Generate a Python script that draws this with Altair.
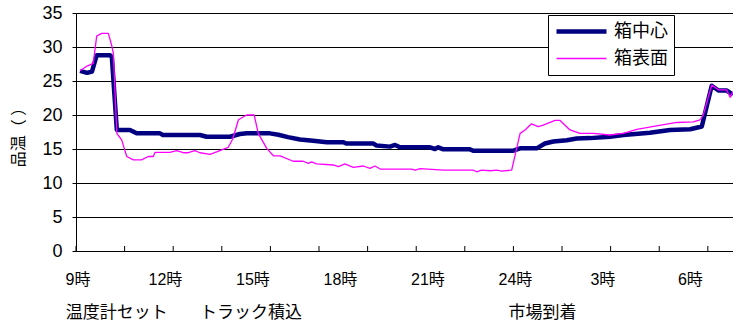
import altair as alt
import pandas as pd

# Elapsed hours since 9:00 and box temperatures (°C)
core_hours = [0.14, 0.38, 0.55, 0.71, 1.17, 1.23, 1.40, 1.85, 2.08, 2.88, 2.98, 4.25,
              4.48, 5.28, 5.62, 5.86, 6.65, 6.94, 7.27, 7.68, 8.13, 8.60, 9.17, 9.28,
              10.20, 10.31, 10.77, 10.94, 11.11, 12.14, 12.31, 12.42, 12.60, 13.51,
              13.62, 15.00, 15.23, 15.80, 16.08, 16.37, 16.83, 17.17, 17.63, 18.31,
              18.77, 19.68, 20.37, 21.06, 21.46, 21.80, 22.03, 22.31, 22.53]
core_temp = [26.5, 26.2, 26.4, 28.8, 28.8, 28.5, 17.8, 17.8, 17.3, 17.3, 17.06, 17.06,
             16.8, 16.8, 17.2, 17.3, 17.3, 17.1, 16.75, 16.4, 16.2, 16.0, 16.0, 15.8,
             15.8, 15.5, 15.35, 15.6, 15.25, 15.25, 15.0, 15.25, 14.95, 14.95,
             14.75, 14.75, 15.1, 15.1, 15.8, 16.1, 16.3, 16.55, 16.6, 16.8,
             17.06, 17.4, 17.8, 17.9, 18.3, 24.3, 23.6, 23.6, 23.0]

surface_hours = [0.14, 0.38, 0.59, 0.71, 0.88, 1.11, 1.22, 1.28, 1.40, 1.57, 1.74, 1.97,
                 2.25, 2.48, 2.65, 2.71, 3.22, 3.45, 3.68, 3.85, 4.08, 4.25, 4.60, 5.22,
                 5.38, 5.57, 5.85, 6.11, 6.25, 6.54, 6.77, 7.00, 7.45, 7.79, 7.97, 8.08,
                 8.25, 8.82, 9.00, 9.22, 9.51, 9.85, 10.08, 10.25, 10.43, 11.51, 11.63,
                 11.80, 12.60, 13.62, 13.74, 13.91, 14.20, 14.43, 14.60, 14.94, 15.23,
                 15.40, 15.62, 15.85, 16.02, 16.43, 16.60, 16.94, 17.28, 17.74, 18.31,
                 18.77, 19.23, 19.91, 20.60, 21.17, 21.40, 21.51, 21.80, 22.03, 22.31,
                 22.43, 22.53]
surface_temp = [26.5, 27.2, 27.6, 31.6, 32.0, 32.0, 30.3, 29.1, 17.3, 16.3, 13.9, 13.4,
                13.4, 13.9, 13.9, 14.5, 14.5, 14.75, 14.45, 14.45, 14.75, 14.45, 14.2, 15.25,
                16.5, 19.3, 20.0, 20.0, 17.3, 15.1, 14.0, 14.0, 13.2, 13.2, 12.9, 13.1,
                12.8, 12.65, 12.4, 12.8, 12.3, 12.5, 12.15, 12.5, 12.05, 12.05, 11.9,
                12.1, 11.9, 11.9, 11.65, 11.9, 11.8, 11.9, 11.75, 11.9, 17.3,
                17.8, 18.7, 18.3, 18.5, 19.2, 19.2, 17.8, 17.3, 17.3, 17.06,
                17.3, 17.9, 18.4, 18.9, 19.0, 19.3, 20.0, 24.4, 23.7, 23.7,
                22.6, 23.4]

series_names = ["箱中心", "箱表面"]
series_colors = ["#000080", "#FF00FF"]
series_widths = [4.5, 1.3]

clock_labels = ["9時", "12時", "15時", "18時", "21時", "24時", "3時", "6時"]
clock_hours = [0, 3, 6, 9, 12, 15, 18, 21]

event_labels = ["温度計セット", "トラック積込", "市場到着"]
event_hours = [1.4, 6.0, 16.0]

# tick marks every 100 minutes along the time axis
tick_hours = [0, 1.667, 3.333, 5, 6.667, 8.333, 10, 11.667, 13.333, 15,
              16.667, 18.333, 20, 21.667]

y_ticks = [0, 5, 10, 15, 20, 25, 30, 35]

lines_df = pd.concat([
    pd.DataFrame({"hours": core_hours, "temp": core_temp, "series": series_names[0]}),
    pd.DataFrame({"hours": surface_hours, "temp": surface_temp, "series": series_names[1]}),
], ignore_index=True)
clock_df = pd.DataFrame({"hours": clock_hours, "label": clock_labels})
event_df = pd.DataFrame({"hours": event_hours, "label": event_labels})
tick_df = pd.DataFrame({"hours": tick_hours})

LATIN = "Liberation Sans, Noto Sans CJK JP, sans-serif"
CJK = "Noto Sans CJK JP, sans-serif"

x_enc = alt.X(
    "hours:Q",
    scale=alt.Scale(domain=[0, 22.53], nice=False, zero=False),
    axis=alt.Axis(title=None, labels=False, ticks=False, grid=False,
                  domain=True, domainColor="black", domainWidth=1),
)

legend = alt.Legend(
    title=None, orient="none", legendX=472, legendY=2, direction="vertical",
    symbolType="stroke", symbolSize=2500, labelFont=CJK, labelFontSize=18,
    labelColor="black", labelOffset=5, strokeColor="black", fillColor="white",
    padding=6, rowPadding=6, clipHeight=21,
)

lines = alt.Chart(lines_df).mark_line(strokeJoin="round").encode(
    x=x_enc,
    y=alt.Y(
        "temp:Q",
        scale=alt.Scale(domain=[0, 35], nice=False),
        axis=alt.Axis(
            values=y_ticks, title="品温（ ）", grid=True, gridColor="black",
            gridWidth=1, domainColor="black", tickColor="black", tickSize=4,
            labelFont=LATIN, labelFontSize=18, labelColor="black", labelPadding=10,
            titleFont=CJK, titleFontSize=16, titleFontWeight="normal",
            titleColor="black", titleAngle=-90, titleX=-58, titleY=120,
            titleAlign="center", titleBaseline="middle",
        ),
    ),
    color=alt.Color("series:N",
                    scale=alt.Scale(domain=series_names, range=series_colors),
                    legend=legend),
    strokeWidth=alt.StrokeWidth("series:N",
                                scale=alt.Scale(domain=series_names, range=series_widths),
                                legend=legend),
)

ticks = alt.Chart(tick_df).mark_rule(color="black", strokeWidth=1).encode(
    x=x_enc, y=alt.value(238), y2=alt.value(233)
)

clock_text = alt.Chart(clock_df).mark_text(
    font=LATIN, fontSize=16, color="black", align="center", baseline="middle", dx=2
).encode(x=x_enc, y=alt.value(267), text="label:N")

event_text = alt.Chart(event_df).mark_text(
    font=CJK, fontSize=17, color="black", align="center", baseline="middle"
).encode(x=x_enc, y=alt.value(300), text="label:N")

chart = alt.layer(lines, ticks, clock_text, event_text).properties(
    width=657, height=238, autosize="none",
    padding={"left": 76, "top": 13, "right": 0, "bottom": 78},
    background="white",
).configure_view(stroke=None)

chart.save("out.html", embed_options={"renderer": "svg", "actions": False})
